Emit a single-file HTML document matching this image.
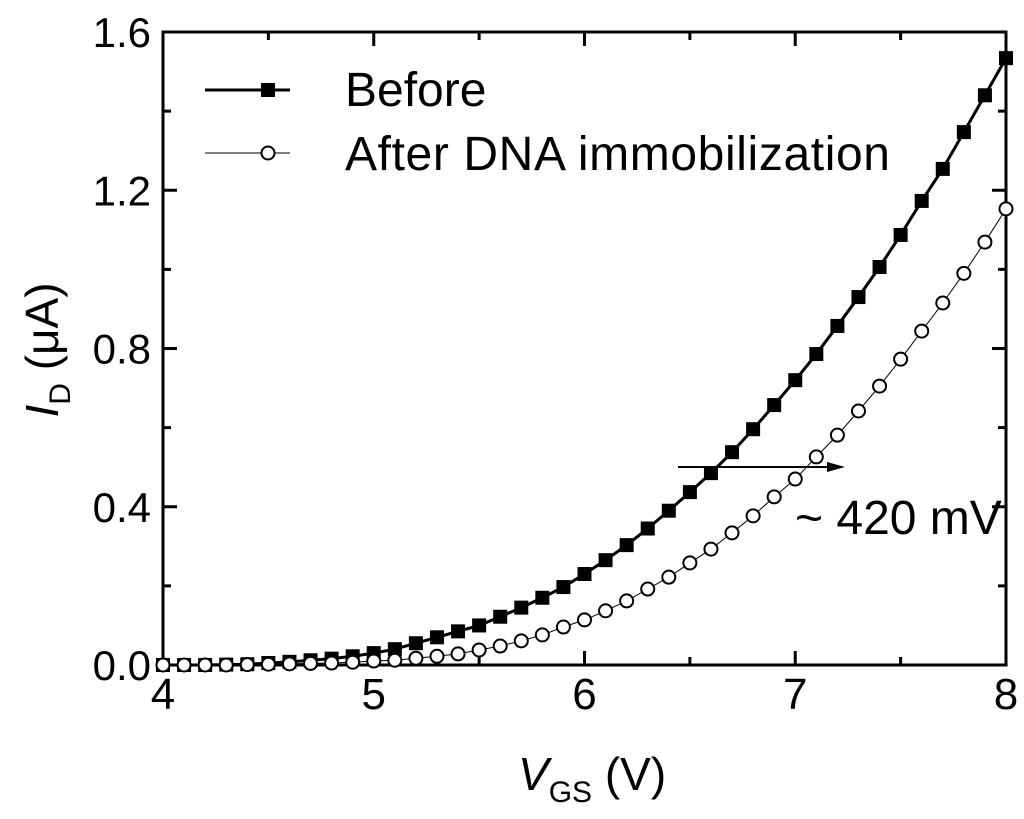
<!DOCTYPE html>
<html><head><meta charset="utf-8"><style>
body{margin:0;background:#fff}
svg text{font-family:"Liberation Sans",Arial,sans-serif;fill:#000}
</style></head><body>
<svg id="chart" width="1024" height="814" viewBox="0 0 1024 814">
<g id="axes"></g><g id="series"></g>
<g>
<line x1="205" y1="90" x2="290" y2="90" stroke="#000" stroke-width="3"/>
<rect x="261" y="83" width="14" height="14" fill="#000"/>
<text x="345" y="106" font-size="48">Before</text>
<line x1="205" y1="153" x2="290" y2="153" stroke="#000" stroke-width="1"/>
<circle cx="268" cy="153" r="6.5" fill="#fff" stroke="#000" stroke-width="2"/>
<text x="345" y="170" font-size="48" textLength="545">After DNA immobilization</text>
</g>
<g>
<line x1="678" y1="467" x2="832" y2="467" stroke="#000" stroke-width="2"/>
<polygon points="845,467 827,462 827,472" fill="#000"/>
<text x="795" y="534" font-size="48">~ 420 mV</text>
</g>
<text x="0" y="0" font-size="46" text-anchor="middle" transform="translate(58 350) rotate(-90)"><tspan font-style="italic">I</tspan><tspan font-size="30" dy="12">D</tspan><tspan dy="-12"> (μA)</tspan></text>
<text x="518" y="790" font-size="46"><tspan font-style="italic">V</tspan><tspan font-size="30" dy="12">GS</tspan><tspan dy="-12"> (V)</tspan></text>
</svg>
<script>
const vgs=[4.0,4.1,4.2,4.3,4.4,4.5,4.6,4.7,4.8,4.9,5.0,5.1,5.2,5.3,5.4,5.5,5.6,5.7,5.8,5.9,6.0,6.1,6.2,6.3,6.4,6.5,6.6,6.7,6.8,6.9,7.0,7.1,7.2,7.3,7.4,7.5,7.6,7.7,7.8,7.9,8.0];
const before=[0,0,0,0.001,0.002,0.005,0.008,0.012,0.016,0.022,0.03,0.04,0.055,0.07,0.085,0.1,0.122,0.145,0.17,0.197,0.23,0.265,0.303,0.345,0.39,0.437,0.485,0.538,0.596,0.657,0.72,0.786,0.857,0.93,1.006,1.087,1.173,1.254,1.347,1.44,1.534];
const after=[0,0,0,0,0.001,0.002,0.003,0.004,0.005,0.007,0.01,0.012,0.017,0.022,0.028,0.038,0.048,0.061,0.076,0.096,0.114,0.137,0.162,0.192,0.222,0.258,0.293,0.334,0.377,0.425,0.47,0.526,0.581,0.642,0.705,0.773,0.844,0.915,0.99,1.069,1.153];
const xTicks=[4,5,6,7,8];
const yTicks=[0.0,0.4,0.8,1.2,1.6];
const X0=163,X1=1006,Y0=665,Y1=32;
const sx=v=>X0+(v-4)/4*(X1-X0);
const sy=v=>Y0-v/1.6*(Y0-Y1);
const NS="http://www.w3.org/2000/svg";
function mk(tag,attrs,parent){const e=document.createElementNS(NS,tag);for(const k in attrs)e.setAttribute(k,attrs[k]);parent.appendChild(e);return e;}
const ax=document.getElementById('axes');
const frame=mk('rect',{x:X0,y:Y1,width:X1-X0,height:Y0-Y1,fill:'none',stroke:'#000','stroke-width':3},ax);


for(let v=4;v<=8.001;v+=0.5){const major=Math.abs(v-Math.round(v))<0.01;const L=major?14:8;const x=sx(v);
mk('line',{x1:x,y1:Y0,x2:x,y2:Y0-L,stroke:'#000','stroke-width':3},ax);
mk('line',{x1:x,y1:Y1,x2:x,y2:Y1+L,stroke:'#000','stroke-width':3},ax);}
for(let i=0;i<=8;i++){const v=i*0.2;const major=i%2==0;const L=major?14:8;const y=sy(v);
mk('line',{x1:X0,y1:y,x2:X0+L,y2:y,stroke:'#000','stroke-width':3},ax);
mk('line',{x1:X1,y1:y,x2:X1-L,y2:y,stroke:'#000','stroke-width':3},ax);}
xTicks.forEach(v=>{const t=mk('text',{x:sx(v),y:Y0+44,'font-size':44,'text-anchor':'middle'},ax);t.textContent=v;

});
yTicks.forEach(v=>{const t=mk('text',{x:X0-12,y:sy(v)+15,'font-size':42,'text-anchor':'end'},ax);t.textContent=v.toFixed(1);

});
const sg=document.getElementById('series');
const p1=mk('polyline',{points:vgs.map((v,i)=>sx(v)+','+sy(before[i])).join(' '),fill:'none',stroke:'#000','stroke-width':3},sg);


const p2=mk('polyline',{points:vgs.map((v,i)=>sx(v)+','+sy(after[i])).join(' '),fill:'none',stroke:'#000','stroke-width':1},sg);


vgs.forEach((v,i)=>{const r=mk('rect',{x:sx(v)-7,y:sy(before[i])-7,width:14,height:14,fill:'#000'},sg);

});
vgs.forEach((v,i)=>{const c=mk('circle',{cx:sx(v),cy:sy(after[i]),r:6.5,fill:'#fff',stroke:'#000','stroke-width':2},sg);

});
</script>
</body></html>
